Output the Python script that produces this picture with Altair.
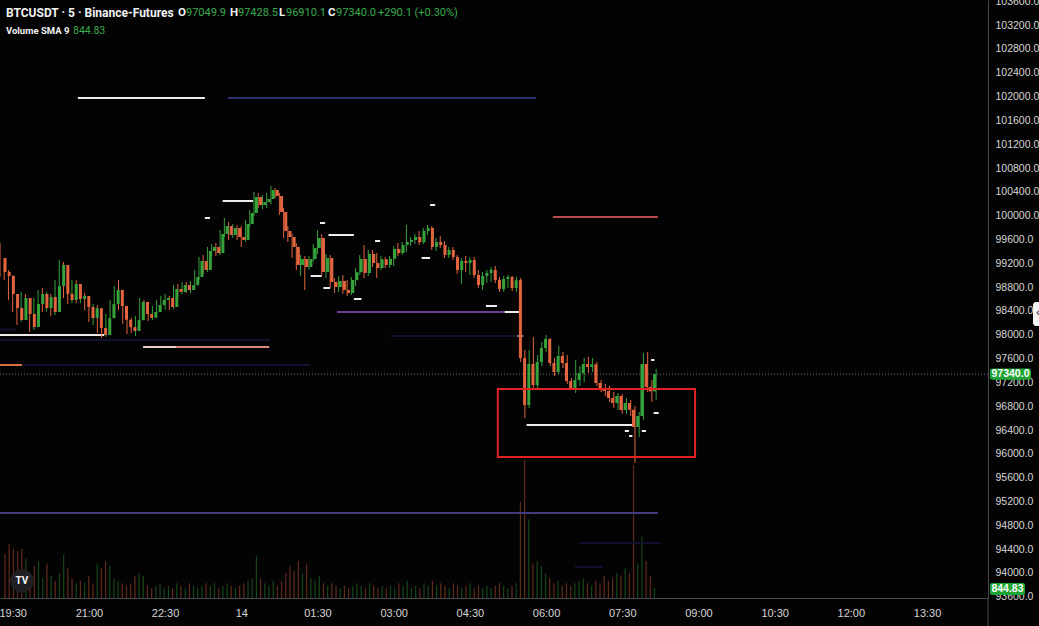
import altair as alt
import numpy as np
import pandas as pd

# ---------------- BTCUSDT perpetual, 5-minute bars ----------------
first_open = 99289.7

closes = [
    99054.6, 98987.4, 98685.2, 98450.1, 98248.5, 98618.0, 98349.3, 98131.0, 98517.2, 98685.2,
    98450.1, 98634.8, 98382.9, 98819.5, 99172.2, 98688.0, 98584.4, 98853.1, 98601.2, 98651.6,
    98466.9, 98282.1, 98447.5, 98114.2, 97996.6, 98279.0, 98517.2, 98752.3, 98483.6, 98251.0,
    98128.4, 98063.8, 98245.2, 98550.8, 98349.3, 98285.6, 98382.9, 98500.4, 98584.4, 98618.0,
    98466.9, 98769.1, 98718.7, 98836.3, 98752.3, 98833.0, 98970.6, 99239.3, 99088.2, 99407.3,
    99474.4, 99373.7, 99692.7, 99827.1, 99675.9, 99793.5, 99642.4, 99592.0, 99860.7, 100045.4,
    100314.1, 100179.7, 100230.1, 100280.5, 100431.6, 100330.9, 100062.2, 99743.1, 99642.4, 99474.4,
    99172.2, 99272.9, 99138.6, 99270.5, 99457.6, 99625.6, 99054.6, 99289.7, 98886.7, 98802.7,
    98903.5, 98752.3, 98702.0, 98920.3, 99051.0, 99272.9, 99037.8, 99356.9, 99205.7, 99121.8,
    99268.0, 99172.2, 99275.3, 99440.8, 99373.7, 99508.0, 99558.4, 99592.0, 99642.4, 99555.0,
    99743.1, 99793.5, 99474.4, 99558.4, 99508.0, 99340.1, 99424.1, 99306.5, 99088.2, 99239.3,
    99205.7, 99256.1, 99004.2, 98836.3, 98987.4, 99037.8, 99090.5, 98920.3, 98769.1, 98937.1,
    98970.6, 98785.9, 98917.0, 97610.4, 96821.1, 97509.7, 97157.0, 97543.2, 97778.3, 97929.5,
    97526.4, 97375.3, 97644.0, 97526.4, 97224.2, 97106.6, 97241.0, 97358.5, 97509.7, 97459.3,
    97505.0, 97190.6, 97106.6, 97056.2, 96938.7, 96854.7, 96972.3, 96737.2, 96854.7, 96741.0,
    96451.7, 96636.4, 97509.7, 97123.4, 97049.9, 97340.0,
]

highs = [
    99541.6, 99155.4, 99088.2, 99004.2, 98550.8, 98718.7, 98685.2, 98450.1, 98618.0, 98752.3,
    98785.9, 98718.7, 98685.2, 98920.3, 99256.1, 99222.5, 98802.7, 98920.3, 98915.0, 98752.3,
    98702.0, 98550.8, 98517.2, 98500.4, 98215.0, 98349.3, 98584.4, 98819.5, 98920.3, 98550.8,
    98315.7, 98282.1, 98315.7, 98618.0, 98584.4, 98450.1, 98483.6, 98584.4, 98651.6, 98685.2,
    98651.6, 98836.3, 98853.1, 98886.7, 98886.7, 98903.5, 99088.2, 99306.5, 99340.1, 99474.4,
    99524.8, 99541.6, 99759.9, 99961.4, 99894.3, 99860.7, 99843.9, 99827.1, 99927.8, 100095.8,
    100398.0, 100381.2, 100347.7, 100381.2, 100498.8, 100465.2, 100381.2, 100129.4, 99827.1, 99692.7,
    99541.6, 99340.1, 99323.3, 99323.3, 99524.8, 99759.9, 99692.7, 99356.9, 99340.1, 98953.9,
    98987.4, 99004.2, 98920.3, 98970.6, 99121.8, 99340.1, 99508.0, 99424.1, 99424.1, 99373.7,
    99323.3, 99306.5, 99323.3, 99491.2, 99541.6, 99558.4, 99843.9, 99642.4, 99692.7, 99743.1,
    99793.5, 99843.9, 99827.1, 99625.6, 99659.2, 99575.2, 99474.4, 99474.4, 99340.1, 99289.7,
    99323.3, 99306.5, 99306.5, 99088.2, 99054.6, 99088.2, 99138.6, 99155.4, 98970.6, 98987.4,
    99004.2, 98987.4, 98970.6, 98953.9, 97744.7, 97744.7, 97963.1, 97660.8, 97879.1, 97996.6,
    97946.3, 97610.4, 97811.9, 97711.2, 97660.8, 97274.5, 97576.8, 97476.1, 97610.4, 97627.2,
    97610.4, 97543.2, 97240.9, 97173.8, 97140.2, 97039.4, 97022.7, 97005.9, 96938.7, 96905.1,
    96804.3, 96703.6, 97694.4, 97711.2, 97240.9, 97428.5,
]

lows = [
    98970.6, 98920.3, 98584.4, 98382.9, 98164.6, 98215.0, 98282.1, 98047.0, 98080.6, 98315.7,
    98382.9, 98390.0, 98315.7, 98332.5, 98752.3, 98618.0, 98517.2, 98534.0, 98530.0, 98534.0,
    98416.5, 98215.0, 98164.6, 98030.2, 97946.3, 97963.1, 98215.0, 98382.9, 98416.5, 98181.4,
    98013.4, 98030.2, 97979.9, 98215.0, 98282.1, 98231.8, 98248.5, 98349.3, 98382.9, 98416.5,
    98416.5, 98433.3, 98618.0, 98685.2, 98702.0, 98702.0, 98752.3, 98920.3, 99021.0, 99054.6,
    99306.5, 99323.3, 99340.1, 99642.4, 99592.0, 99625.6, 99592.0, 99474.4, 99558.4, 99810.3,
    99995.0, 100129.4, 100112.6, 100129.4, 100196.5, 100297.3, 100011.8, 99625.6, 99558.4, 99289.7,
    99088.2, 98987.4, 98752.3, 99088.2, 99222.5, 99356.9, 98987.4, 98953.9, 98802.7, 98702.0,
    98718.7, 98685.2, 98651.6, 98668.4, 98819.5, 99004.2, 98953.9, 98987.4, 99138.6, 98953.9,
    99088.2, 99121.8, 99121.8, 99155.4, 99323.3, 99340.1, 99390.5, 99491.2, 99524.8, 99508.0,
    99524.8, 99675.9, 99424.1, 99407.3, 99457.6, 99289.7, 99289.7, 99256.1, 99021.0, 98853.1,
    99054.6, 99004.2, 98953.9, 98785.9, 98752.3, 98869.9, 98886.7, 98869.9, 98718.7, 98718.7,
    98785.9, 98735.5, 98718.7, 97543.2, 96602.8, 96770.8, 97106.6, 97106.6, 97476.1, 97711.2,
    97476.1, 97308.1, 97341.7, 97442.5, 97173.8, 97073.0, 97022.7, 97140.2, 97207.4, 97358.5,
    97375.3, 97140.2, 97039.4, 96972.3, 96871.5, 96770.8, 96737.2, 96670.0, 96670.0, 96636.4,
    95847.1, 96283.8, 96569.2, 97039.4, 96871.5, 96910.1,
]

volumes = [
    900, 1100, 1000, 950, 1000, 800, 500, 650, 750, 400,
    700, 450, 350, 500, 880, 600, 400, 300, 350, 300,
    450, 300, 700, 600, 750, 650, 400, 350, 300, 250,
    300, 450, 500, 450, 250, 200, 250, 300, 200, 250,
    200, 300, 250, 200, 300, 250, 200, 250, 300, 250,
    300, 200, 250, 300, 250, 200, 250, 300, 350, 400,
    850, 400, 300, 250, 350, 250, 350, 500, 650, 550,
    750, 500, 700, 400, 350, 450, 300, 250, 300, 250,
    200, 250, 200, 250, 300, 250, 200, 300, 250, 200,
    250, 200, 250, 200, 300, 250, 350, 200, 250, 200,
    300, 250, 350, 250, 300, 250, 200, 300, 250, 200,
    250, 300, 200, 250, 200, 250, 200, 250, 300, 250,
    200, 250, 300, 1950, 2800, 1600, 700, 750, 650, 500,
    400, 300, 350, 250, 300, 250, 300, 350, 400, 300,
    250, 350, 300, 450, 350, 400, 500, 450, 600, 500,
    2700, 700, 1250, 750, 450, 203.5,
]

# ---------------- horizontal levels drawn on the chart ----------------
level_start = [
    "2024-12-13T20:47", "2024-12-13T23:44", "2024-12-14T06:08", "2024-12-13T23:38",
    "2024-12-13T23:17", "2024-12-14T01:33", "2024-12-14T01:43", "2024-12-14T02:38",
    "2024-12-14T03:43", "2024-12-14T03:33", "2024-12-14T01:22", "2024-12-14T01:37",
    "2024-12-14T02:13", "2024-12-14T04:49", "2024-12-14T01:53", "2024-12-14T05:11",
    "2024-12-13T19:15", "2024-12-13T22:04", "2024-12-13T22:43", "2024-12-13T19:15",
    "2024-12-13T19:15", "2024-12-14T05:37", "2024-12-14T07:33", "2024-12-14T07:38",
    "2024-12-14T07:53", "2024-12-14T08:07", "2024-12-14T08:04", "2024-12-14T05:23",
    "2024-12-13T19:15", "2024-12-13T19:15", "2024-12-13T19:42", "2024-12-14T02:56",
    "2024-12-14T06:40", "2024-12-14T06:34",
]
level_end = [
    "2024-12-13T23:17", "2024-12-14T05:48", "2024-12-14T08:12", "2024-12-14T00:14",
    "2024-12-13T23:23", "2024-12-14T01:39", "2024-12-14T02:13", "2024-12-14T02:44",
    "2024-12-14T03:49", "2024-12-14T03:43", "2024-12-14T01:35", "2024-12-14T01:45",
    "2024-12-14T02:22", "2024-12-14T05:02", "2024-12-14T05:11", "2024-12-14T05:29",
    "2024-12-13T21:18", "2024-12-13T22:43", "2024-12-14T00:33", "2024-12-13T19:41",
    "2024-12-14T08:12", "2024-12-14T07:42", "2024-12-14T07:38", "2024-12-14T07:42",
    "2024-12-14T07:58", "2024-12-14T08:13", "2024-12-14T08:08", "2024-12-14T05:33",
    "2024-12-14T00:34", "2024-12-13T19:33", "2024-12-14T01:21", "2024-12-14T05:26",
    "2024-12-14T08:15", "2024-12-14T07:07",
]
level_price = [
    101976.6, 101976.6, 99978.2, 100246.9,
    99961.4, 99877.4, 99675.9, 99575.2,
    100179.7, 99289.7, 98987.4, 98785.9,
    98601.2, 98483.6, 98382.9, 98382.9,
    97996.6, 97795.1, 97795.1, 97492.9,
    95007.4, 96485.3, 96384.5, 96300.6,
    96384.5, 96686.8, 97576.8, 97979.9,
    97912.7, 98088.0, 97492.9, 97979.9,
    94503.9, 94100.8,
]
level_kind = [
    "white", "navy", "red", "white",
    "white", "white", "white", "white",
    "white", "white", "white", "white",
    "white", "white", "violet", "white",
    "white", "blush", "salmon", "orange",
    "indigo", "white", "white", "white",
    "white", "white", "white", "grey",
    "faint", "faint", "faint", "faint",
    "faint", "faint",
]

# highlighted zone
zone_start = ["2024-12-14T05:03"]
zone_end = ["2024-12-14T08:56"]
zone_top = [97089.8]
zone_bottom = [95947.9]

# axis ticks
tick_prices = list(range(93600, 103601, 400))
tick_times = pd.date_range("2024-12-13 19:30", "2024-12-14 13:30", freq="90min")

# ---------------- styling ----------------
W, H = 988, 598
PRICE_DOMAIN = [93580, 103622]
VOLUME_MAX = 12140
UP, DOWN = "#35a23c", "#e2653f"
BG = "#030303"
AXIS_TXT = "#d6d6d6"
NARROW = "Liberation Sans Narrow, Liberation Sans, sans-serif"
HEAD = "Roboto, Inter, sans-serif"
GREEN_TXT = "#3aaa4e"

LEVEL_STYLE = {
    "white": ("#ececec", 2.0),
    "navy": ("#2a2c6c", 2.0),
    "red": ("#b8484a", 2.0),
    "violet": ("#6b3e8f", 2.0),
    "blush": ("#e8cfc8", 2.0),
    "salmon": ("#d98a7b", 2.0),
    "orange": ("#d8703f", 2.0),
    "grey": ("#8c8c8c", 1.5),
    "indigo": ("#433a80", 2.0),
    "faint": ("#111130", 1.5),
}

# ---------------- tables ----------------
times = pd.date_range("2024-12-13 19:15", periods=len(closes), freq="5min")
opens = [first_open] + closes[:-1]
bars = pd.DataFrame({
    "time": times.strftime("%Y-%m-%dT%H:%M:%S"),
    "open": opens, "high": highs, "low": lows, "close": closes, "volume": volumes,
})
bars["high"] = bars[["high", "open", "close"]].max(axis=1)
bars["low"] = bars[["low", "open", "close"]].min(axis=1)
bars["dir"] = np.where(bars["close"] >= bars["open"], "up", "down")

levels = pd.DataFrame({"start": level_start, "end": level_end,
                       "price": level_price, "kind": level_kind})
zone = pd.DataFrame({"start": zone_start, "end": zone_end,
                     "top": zone_top, "bottom": zone_bottom})

last = bars.iloc[-1]
o, h, l, c = last["open"], last["high"], last["low"], last["close"]
chg = c - o
sma9 = float(np.mean(volumes[-9:]))


def dt(ts):
    ts = pd.Timestamp(ts)
    return alt.DateTime(year=ts.year, month=ts.month, date=ts.day,
                        hours=ts.hour, minutes=ts.minute)


X_SCALE = alt.Scale(domain=[dt("2024-12-13 19:15"), dt("2024-12-14 14:42")])
Y_SCALE = alt.Scale(domain=PRICE_DOMAIN, nice=False, zero=False)


def xt(field, axis=None):
    return alt.X(f"{field}:T", scale=X_SCALE, axis=axis)


def yp(field, axis=None):
    return alt.Y(f"{field}:Q", scale=Y_SCALE, axis=axis)


dir_color = alt.Color("dir:N", scale=alt.Scale(domain=["up", "down"], range=[UP, DOWN]), legend=None)

x_axis = alt.Axis(
    values=[dt(t) for t in tick_times], format="%H:%M",
    labelExpr="datum.label == '00:00' ? timeFormat(datum.value, '%d') : datum.label",
    title=None, grid=False, ticks=False, labelFlush=False, labelOverlap=False,
    labelColor=AXIS_TXT, labelFont=NARROW, labelFontSize=11, labelPadding=9,
    domainColor="#4a4a4a", domainWidth=1,
)
y_axis = alt.Axis(
    orient="right", values=tick_prices, format=".1f", title=None, grid=False,
    ticks=False, labelFlush=False, labelOverlap=False, labelColor=AXIS_TXT,
    labelFont=NARROW, labelFontSize=10.5, labelPadding=7,
    domainColor="#4a4a4a", domainWidth=1,
)

one = pd.DataFrame({"k": [0]})

# volume histogram along the bottom
volume = alt.Chart(bars).mark_bar(size=1.2, opacity=0.42).encode(
    x=xt("time"),
    y=alt.Y("volume:Q", scale=alt.Scale(domain=[0, VOLUME_MAX]), axis=None),
    color=dir_color,
)

level_lines = alt.Chart(levels).mark_rule().encode(
    x=xt("start"), x2="end", y=yp("price"),
    color=alt.Color("kind:N", scale=alt.Scale(domain=list(LEVEL_STYLE),
                    range=[v[0] for v in LEVEL_STYLE.values()]), legend=None),
    strokeWidth=alt.StrokeWidth("kind:N", scale=alt.Scale(domain=list(LEVEL_STYLE),
                                range=[v[1] for v in LEVEL_STYLE.values()]), legend=None),
)

last_line = alt.Chart(one).mark_rule(color="#707070", strokeDash=[1, 2], strokeWidth=1).encode(
    x=alt.value(0), x2=alt.value(W),
    y=alt.YDatum(float(c), type="quantitative", scale=Y_SCALE, axis=None),
)

wicks = alt.Chart(bars).mark_rule(strokeWidth=1).encode(
    x=xt("time", x_axis), y=yp("low", y_axis), y2="high", color=dir_color,
)
bodies = alt.Chart(bars).mark_bar(size=3).encode(
    x=xt("time"), y=yp("open"), y2="close", color=dir_color,
)

zone_box = alt.Chart(zone).mark_rect(filled=False, stroke="#e32222", strokeWidth=2).encode(
    x=xt("start"), x2="end", y=yp("top"), y2="bottom",
)


def text(s, x, y, color="#f2f2f2", size=11, weight="normal", font=HEAD, align="left"):
    return alt.Chart(one).mark_text(
        text=s, align=align, baseline="middle", color=color,
        fontSize=size, fontWeight=weight, font=font,
    ).encode(x=alt.value(x), y=alt.value(y))


header = [
    text("BTCUSDT · 5 · Binance-Futures", 6, 13, size=12, weight="bold"),
    text("O", 178, 13, size=11.5, weight="bold"),
    text(f"{o:.1f}", 186, 13, color=GREEN_TXT),
    text("H", 230, 13, size=11.5, weight="bold"),
    text(f"{h:.1f}", 238, 13, color=GREEN_TXT),
    text("L", 279, 13, size=11.5, weight="bold"),
    text(f"{l:.1f}", 286, 13, color=GREEN_TXT),
    text("C", 328, 13, size=11.5, weight="bold"),
    text(f"{c:.1f}", 336, 13, color=GREEN_TXT),
    text(f"{chg:+.1f} ({chg / o * 100:+.2f}%)", 378, 13, color=GREEN_TXT),
    text("Volume SMA 9", 6, 31, size=9.5, weight="bold"),
    text(f"{sma9:.2f}", 73, 31, color=GREEN_TXT, size=10.5),
]

# price-scale tags for the last close and the volume average
close_tag = alt.Chart(one).mark_rect(color="#1ea534", cornerRadius=2).encode(
    x=alt.value(990), x2=alt.value(1031),
    y=alt.YDatum(float(c) + 95, type="quantitative", scale=Y_SCALE, axis=None),
    y2=alt.Y2Datum(float(c) - 95),
)
close_txt = alt.Chart(one).mark_text(
    text=f"{c:.1f}", color="#ffffff", fontSize=10.5, font=NARROW, fontWeight="bold",
).encode(x=alt.value(1010.5),
         y=alt.YDatum(float(c), type="quantitative", scale=Y_SCALE, axis=None))
sma_tag = alt.Chart(one).mark_rect(color="#1ea534", cornerRadius=2).encode(
    x=alt.value(990), x2=alt.value(1025), y=alt.value(583), y2=alt.value(595),
)
sma_txt = text(f"{sma9:.2f}", 1007.5, 589, color="#ffffff", size=10.5,
               weight="bold", font=NARROW, align="center")

# chrome: axis separator below the plot, side tab and logo badge
separator = alt.Chart(one).mark_rule(color="#4a4a4a").encode(
    x=alt.value(W), y=alt.value(H), y2=alt.value(626))
side_tab = alt.Chart(one).mark_rect(color="#f4f4f4", cornerRadius=3).encode(
    x=alt.value(1033), x2=alt.value(1042), y=alt.value(302), y2=alt.value(326))
side_glyph = text("‹", 1036, 313, color="#333333", size=11, weight="bold")
badge = alt.Chart(one).mark_point(filled=True, size=560, color="#202024", opacity=1).encode(
    x=alt.value(22), y=alt.value(581))
badge_txt = text("TV", 22, 581, color="#f4f4f4", size=10, weight="bold", align="center")

chart = alt.layer(
    volume, level_lines, last_line, wicks, bodies, zone_box,
    close_tag, close_txt, sma_tag, sma_txt, separator, side_tab, side_glyph,
    badge, badge_txt, *header,
).resolve_scale(
    x="independent", y="independent", color="independent", strokeWidth="independent"
).properties(
    width=W, height=H, background=BG,
    autosize=alt.AutoSizeParams(type="none"),
    padding={"left": 0, "top": 0, "right": 1039 - W, "bottom": 626 - H},
).configure_view(stroke=None)

chart.save("out.html", embed_options={"renderer": "svg", "actions": False})
